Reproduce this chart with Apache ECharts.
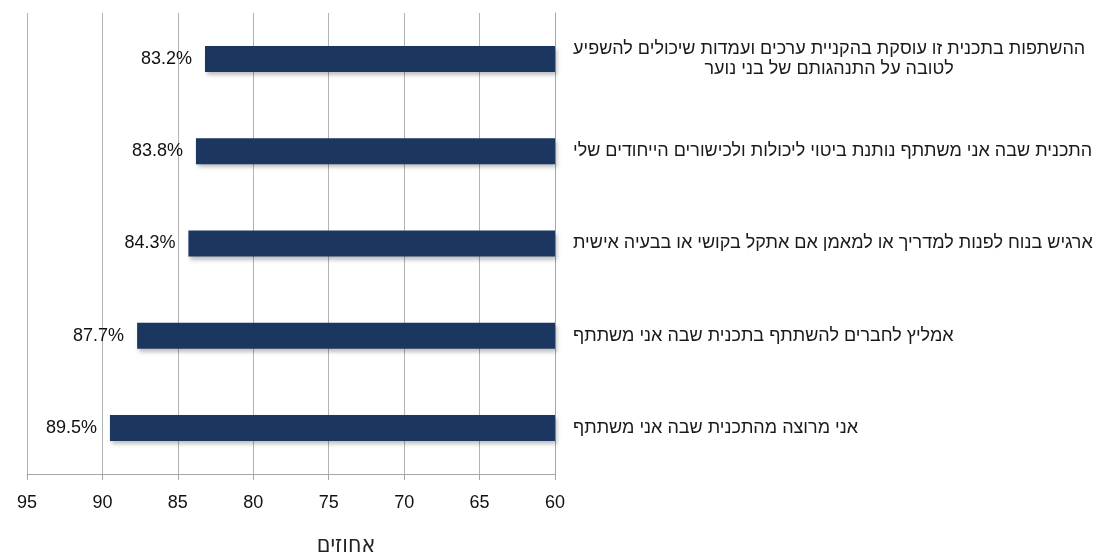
<!DOCTYPE html>
<html>
<head>
<meta charset="utf-8">
<script src="https://cdn.jsdelivr.net/npm/echarts@6/dist/echarts.min.js"></script>
<style>
html,body{margin:0;padding:0;background:#fff;}
#c{width:1094px;height:556px;}
</style>
</head>
<body>
<div id="c"></div>
<script>
const categories = [
  'ההשתפות בתכנית זו עוסקת בהקניית ערכים ועמדות שיכולים להשפיע\nלטובה על התנהגותם של בני נוער',
  'התכנית שבה אני משתתף נותנת ביטוי ליכולות ולכישורים הייחודים שלי',
  'ארגיש בנוח לפנות למדריך או למאמן אם אתקל בקושי או בבעיה אישית',
  'אמליץ לחברים להשתתף בתכנית שבה אני משתתף',
  'אני מרוצה מהתכנית שבה אני משתתף'
];
const values = [83.2, 83.8, 84.3, 87.7, 89.5];
const xTicksMin = 60, xTicksMax = 95, xTickStep = 5;
const axisTitle = 'אחוזים';

const chart = echarts.init(document.getElementById('c'), null, {renderer: 'canvas'});
const font = '"Liberation Sans", Arial, sans-serif';
chart.setOption({
  animation: false,
  backgroundColor: '#ffffff',
  grid: {left: 27, right: 539, top: 13, bottom: 82, containLabel: false, outerBoundsMode: 'none'},
  xAxis: {
    type: 'value',
    min: xTicksMin, max: xTicksMax, interval: xTickStep,
    inverse: true,
    name: axisTitle,
    nameLocation: 'middle',
    nameGap: 61,
    nameTextStyle: {fontFamily: '"DejaVu Sans Condensed", "Liberation Sans Narrow", sans-serif', fontSize: 23, color: '#222', padding: [0, 0, 0, 110]},
    axisLine: {show: true, lineStyle: {color: '#a6a6a6', width: 1}},
    axisTick: {show: true, length: 6, lineStyle: {color: '#a6a6a6'}},
    axisLabel: {fontFamily: font, fontSize: 18, color: '#111', margin: 20},
    splitLine: {show: true, lineStyle: {color: '#b3b3b3', width: 1}}
  },
  yAxis: {
    type: 'category',
    data: categories,
    inverse: true,
    position: 'right',
    axisLine: {show: true, lineStyle: {color: '#a6a6a6', width: 1}},
    axisTick: {show: false},
    axisLabel: {
      margin: 18,
      formatter: v => '{t|' + v.split('\n').join('}\n{t|') + '}',
      rich: {t: {fontFamily: font, fontSize: 18, color: '#1a1a1a', align: 'center', lineHeight: 20}}
    },
    splitLine: {show: false}
  },
  series: [{
    type: 'bar',
    data: values,
    barWidth: 26,
    itemStyle: {
      color: '#1b375f',
      shadowColor: 'rgba(0,0,0,0.25)',
      shadowBlur: 4,
      shadowOffsetX: 2,
      shadowOffsetY: 3
    },
    label: {
      show: true,
      position: 'left',
      distance: 13,
      formatter: p => p.value.toFixed(1) + '%',
      fontFamily: font,
      fontSize: 18,
      color: '#111'
    }
  }]
});
</script>
</body>
</html>
